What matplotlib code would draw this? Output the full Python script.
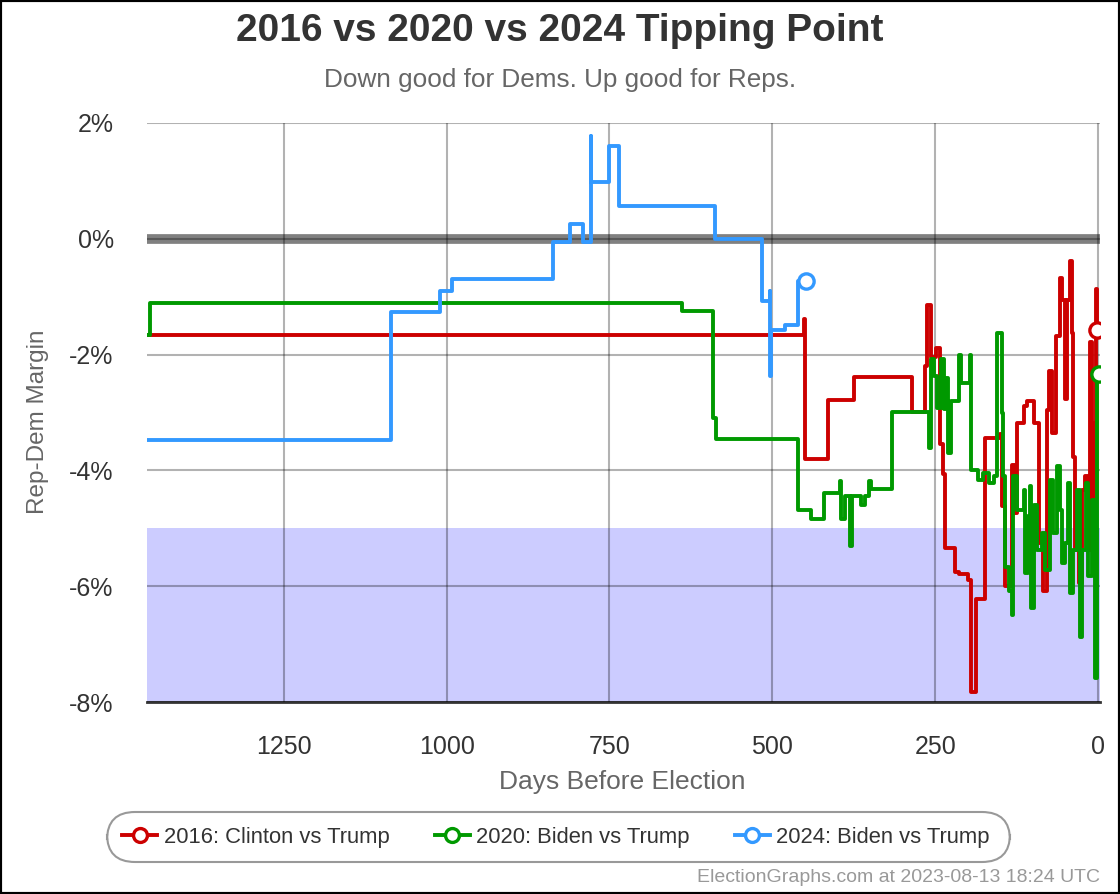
import matplotlib
matplotlib.use('Agg')
import matplotlib.pyplot as plt
from matplotlib.lines import Line2D
from matplotlib.patches import FancyBboxPatch, Rectangle

plt.rcParams['font.family'] = ['Liberation Sans', 'DejaVu Sans']

# --- data (days before election, Rep-Dem margin in %) ---
days_2016 = [1460, 451, 450, 415, 375, 286, 265, 263, 256, 248, 242, 238, 235, 219, 214,
             199, 195, 187, 174, 151, 148, 143, 132, 127, 124, 114, 109, 99, 90, 84, 79,
             75, 71, 64, 59, 56, 51, 48, 43, 40, 38, 35, 30, 25, 20, 16, 13, 10, 6, 3, 1]
margin_2016 = [-1.66, -1.38, -3.80, -2.79, -2.39, -2.99, -2.19, -1.15, -2.05, -1.89, -3.55,
               -4.06, -5.34, -5.76, -5.79, -5.89, -7.82, -6.22, -3.44, -3.37, -4.62, -6.00,
               -3.90, -4.73, -3.18, -2.89, -2.80, -3.18, -5.25, -6.09, -2.95, -2.28, -3.35,
               -1.68, -0.67, -1.05, -2.77, -1.05, -0.38, -1.62, -3.76, -5.37, -5.95, -4.33,
               -4.10, -5.37, -1.79, -5.37, -3.18, -0.87, -1.58]

days_2020 = [1460, 1455, 639, 591, 586, 460, 441, 420, 396, 395, 388, 381, 378, 364, 358,
             351, 349, 316, 259, 257, 252, 247, 241, 237, 234, 230, 226, 214, 211, 197, 195,
             184, 176, 167, 160, 155, 148, 146, 143, 137, 132, 130, 125, 114, 112, 107, 104,
             103, 99, 94, 86, 81, 74, 69, 63, 59, 56, 51, 46, 43, 38, 33, 28, 24, 18, 15,
             10, 6, 4, 2, -1]
margin_2020 = [-1.66, -1.11, -1.24, -3.10, -3.45, -4.69, -4.84, -4.39, -4.19, -4.84, -4.44,
               -5.31, -4.44, -4.59, -4.44, -4.19, -4.32, -2.99, -3.61, -2.08, -2.37, -2.92,
               -2.08, -2.94, -2.40, -3.70, -2.80, -2.01, -2.49, -2.01, -3.99, -4.16, -4.04,
               -4.22, -4.10, -1.62, -3.00, -4.10, -5.66, -6.09, -6.50, -4.10, -4.68, -4.33,
               -5.77, -4.79, -4.27, -6.38, -4.59, -5.37, -5.08, -5.72, -4.16, -5.08, -3.93,
               -4.68, -5.60, -5.25, -4.22, -6.12, -5.37, -4.33, -6.87, -5.37, -4.22, -5.83,
               -4.51, -5.66, -7.59, -2.37, -2.33]

days_2024 = [1460, 1086, 1010, 992, 837, 811, 791, 779, 778, 751, 736, 588, 516, 504, 503,
             502, 480, 460, 448]
margin_2024 = [-3.48, -1.26, -0.90, -0.70, -0.05, 0.26, -0.05, 1.77, 0.98, 1.61, 0.56, 0.0,
               -1.08, -0.91, -2.37, -1.58, -1.49, -0.73, -0.73]

series = [
    ('2016: Clinton vs Trump', days_2016, margin_2016, '#cc0000'),
    ('2020: Biden vs Trump', days_2020, margin_2020, '#009900'),
    ('2024: Biden vs Trump', days_2024, margin_2024, '#3399ff'),
]

x_ticks = [1250, 1000, 750, 500, 250, 0]
y_ticks = [2, 0, -2, -4, -6, -8]
y_tick_labels = ['2%', '0%', '-2%', '-4%', '-6%', '-8%']

fig = plt.figure(figsize=(11.2, 8.94), dpi=100)
ax = fig.add_axes([147 / 1120, 1 - 702 / 894, (1100 - 147) / 1120, (702 - 123) / 894])

ax.axhspan(-8, -5, color='#ccccff', zorder=0, lw=0)
ax.axhline(0, color='#808080', lw=7, zorder=1)

for label, d, m, c in series:
    ax.step(d, m, where='post', color=c, lw=2.8, zorder=3)
    ax.plot(d[-1], m[-1], 'o', ms=11, mfc='white', mec=c, mew=2.4, zorder=4)

ax.set_xlim(1460, -3)
ax.set_ylim(-8, 2)
ax.set_xticks(x_ticks)
ax.set_xticklabels([str(t) for t in x_ticks])
ax.set_yticks(y_ticks)
ax.set_yticklabels(y_tick_labels)
ax.grid(True, color='black', alpha=0.3, lw=1.5, zorder=2)
ax.set_axisbelow(False)
ax.tick_params(length=0, labelsize=18, colors='#333333')
ax.tick_params(axis='x', pad=24)
ax.tick_params(axis='y', pad=24)
for s in ['top', 'left', 'right']:
    ax.spines[s].set_visible(False)
ax.spines['bottom'].set_color('#333333')
ax.spines['bottom'].set_linewidth(2)

fig.text(0.5, 1 - 31 / 894, '2016 vs 2020 vs 2024 Tipping Point', ha='center', va='center',
         fontsize=28, fontweight='bold', color='#333333')
fig.text(0.5, 1 - 80 / 894, 'Down good for Dems. Up good for Reps.', ha='center', va='center',
         fontsize=18.8, color='#666666')
fig.text(38 / 1120, 1 - 422 / 894, 'Rep-Dem Margin', rotation=90, ha='center', va='center',
         fontsize=17.5, color='#666666')
fig.text(622 / 1120, 1 - 782 / 894, 'Days Before Election', ha='center', va='center',
         fontsize=19, color='#666666')
fig.text(1100 / 1120, 1 - 877 / 894, 'ElectionGraphs.com at 2023-08-13 18:24 UTC', ha='right',
         va='center', fontsize=14, color='#999999')

# legend box
box = FancyBboxPatch((107 / 1120, 1 - 862 / 894), 903 / 1120, 50 / 894,
                     boxstyle='round,pad=0,rounding_size=0.025', transform=fig.transFigure,
                     fill=False, ec='#999999', lw=1.5, mutation_aspect=1120 / 894)
fig.patches.append(box)
handles = [Line2D([], [], color=c, lw=2.8, marker='o', ms=10, mfc='white', mec=c, mew=2.4)
           for _, _, _, c in series]
fig.legend(handles, [s[0] for s in series], loc='center', ncol=3, frameon=False,
           bbox_to_anchor=(556 / 1120, 1 - 837 / 894), fontsize=15.8, handlelength=1.6,
           handletextpad=0.3, columnspacing=2.05, labelcolor='#333333')

fig.patches.append(Rectangle((0, 0), 1, 1, transform=fig.transFigure, fill=False,
                             ec='black', lw=3))

fig.savefig('out.png', dpi=100)
